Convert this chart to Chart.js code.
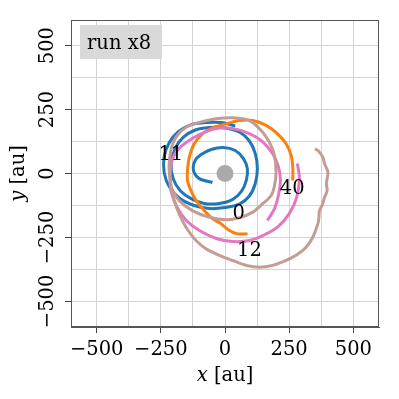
<!DOCTYPE html>
<html>
<head>
<meta charset="utf-8">
<script src="https://cdn.jsdelivr.net/npm/chart.js@4.4.0/dist/chart.umd.min.js"></script>
<style>
  html, body { margin: 0; padding: 0; background: #fff; }
</style>
</head>
<body>
<canvas id="orbit-chart" width="399" height="399"></canvas>
<script>
// tracks in au as [x, y]
const blueTrack = [
  [-49,-35],[-100,-20],[-123,12],[-116,51],[-93,74],[-54,94],[-7,102],[40,90],[71,59],[87,20],
  [83,-27],[64,-70],[29,-102],[-22,-117],[-81,-117],[-132,-98],[-175,-66],[-202,-20],[-210,39],
  [-194,98],[-163,141],[-116,170],[-61,180],[1,178],[56,162],[95,127],[118,78],[126,20],[118,-39],
  [95,-88],[56,-120],[1,-133],[-61,-137],[-123,-124],[-178,-96],[-217,-52],[-237,4],[-237,66],
  [-217,121],[-182,164],[-131,191],[-73,199],[-14,199],[40,186]
];
const orangeTrack = [
  [88,-236],[49,-236],[17,-223],[-16,-196],[-48,-177],[-81,-145],[-113,-105],[-133,-66],[-146,-27],
  [-146,12],[-139,64],[-120,116],[-88,155],[-42,181],[4,194],[56,207],[108,207],[160,188],[205,155],
  [238,116],[258,70],[264,25],[264,-27]
];
const pinkTrack = [
  [282,39],[290,-20],[279,-94],[251,-156],[208,-207],[157,-238],[95,-262],[29,-266],[-34,-254],
  [-100,-223],[-151,-184],[-186,-133],[-210,-70],[-214,-8],[-206,51],[-186,90],[-151,121],[-100,152],
  [-34,176],[29,176],[95,156],[146,125],[185,78],[208,27],[216,-27],[208,-86],[193,-137],[165,-184]
];
const brownTrack = [
  [350,96],[362,90],[381,64],[388,38],[401,5],[395,-40],[398,-66],[388,-93],[380,-120],[368,-145],
  [366,-172],[362,-196],[342,-249],[316,-288],[277,-320],[238,-340],[186,-359],[134,-366],[82,-359],
  [30,-340],[-22,-320],[-74,-294],[-113,-262],[-152,-210],[-179,-157],[-198,-105],[-211,-40],
  [-218,25],[-211,90],[-191,142],[-152,181],[-100,200],[-35,214],[30,218],[95,207],[141,168],
  [173,122],[193,70],[199,5],[193,-47],[180,-86],[147,-118],[108,-151],[56,-173],[4,-181],
  [-61,-171],[-127,-145],[-179,-105],[-210,-55]
];
const starPos = [[0, 0]];

const labelTexts = ['11', '40', '0', '12'];
const labelX = [-211, 262, 53, 95];
const labelY = [74, -60, -157, -301];

const tickValues = [-500, -250, 0, 250, 500];
const gridValues = [-500, -375, -250, -125, 0, 125, 250, 375, 500];
const boxText = 'run x8';

const serif = '"DejaVu Serif", "Liberation Serif", serif';
const fontSize = 19.5;

function toPoints(arr) {
  return arr.map(p => ({ x: p[0], y: p[1] }));
}

function fmtTick(v) {
  if (!tickValues.includes(v)) return '';
  return v < 0 ? '\u2212' + Math.abs(v) : String(v);
}

function tickMarkColor(ctx) {
  return ctx.tick && tickValues.includes(ctx.tick.value) ? '#444444' : 'rgba(0,0,0,0)';
}

function drawMixed(ctx, parts, cx, baseY) {
  let total = 0;
  parts.forEach(p => { ctx.font = p.font; p.w = ctx.measureText(p.text).width; total += p.w; });
  let x = cx - total / 2;
  parts.forEach(p => { ctx.font = p.font; ctx.fillText(p.text, x, baseY); x += p.w; });
}

const decorPlugin = {
  id: 'decor',
  afterDraw(chart) {
    const ctx = chart.ctx;
    const area = chart.chartArea;
    const xs = chart.scales.x;
    const ys = chart.scales.y;
    ctx.save();

    // frame on all four sides
    ctx.strokeStyle = '#555555';
    ctx.lineWidth = 1;
    ctx.strokeRect(area.left + 0.5, area.top + 0.5, area.right - area.left - 1, area.bottom - area.top - 1);

    // snapshot labels
    ctx.fillStyle = '#000';
    ctx.font = fontSize + 'px ' + serif;
    ctx.textAlign = 'center';
    ctx.textBaseline = 'middle';
    for (let i = 0; i < labelTexts.length; i++) {
      ctx.fillText(labelTexts[i], xs.getPixelForValue(labelX[i]), ys.getPixelForValue(labelY[i]));
    }

    // run box
    ctx.fillStyle = '#d9d9d9';
    ctx.fillRect(area.left + 9, area.top + 5, 82, 34);
    ctx.fillStyle = '#000';
    ctx.textAlign = 'left';
    ctx.textBaseline = 'alphabetic';
    ctx.fillText(boxText, area.left + 16, area.top + 28.5);

    // axis titles with italic variable names
    const cx = (area.left + area.right) / 2;
    const cy = (area.top + area.bottom) / 2;
    drawMixed(ctx, [
      { text: 'x', font: 'italic ' + fontSize + 'px ' + serif },
      { text: ' [au]', font: fontSize + 'px ' + serif }
    ], cx, 381);
    ctx.translate(23.5, cy);
    ctx.rotate(-Math.PI / 2);
    drawMixed(ctx, [
      { text: 'y', font: 'italic ' + fontSize + 'px ' + serif },
      { text: ' [au]', font: fontSize + 'px ' + serif }
    ], 0, 0);
    ctx.restore();
  }
};

function trackSet(label, arr, color, order) {
  return {
    label: label,
    data: toPoints(arr),
    showLine: true,
    borderColor: color,
    backgroundColor: color,
    borderWidth: 3,
    pointRadius: 0,
    tension: 0.3,
    order: order
  };
}

const ctx = document.getElementById('orbit-chart').getContext('2d');
const chart = new Chart(ctx, {
  type: 'scatter',
  plugins: [decorPlugin],
  data: {
    datasets: [
      {
        label: 'star',
        data: toPoints(starPos),
        pointRadius: 8.5,
        pointBackgroundColor: '#aaaaaa',
        pointBorderWidth: 0,
        order: 0
      },
      trackSet('brown', brownTrack, '#c49c94', 1),
      trackSet('pink', pinkTrack, '#e377c2', 2),
      trackSet('orange', orangeTrack, '#ff7f0e', 3),
      trackSet('blue', blueTrack, '#1f77b4', 4)
    ]
  },
  options: {
    responsive: false,
    animation: false,
    devicePixelRatio: 1,
    layout: { padding: { top: 20, right: 20, left: 0, bottom: 0 } },
    plugins: {
      legend: { display: false },
      tooltip: { enabled: false }
    },
    scales: {
      x: {
        type: 'linear',
        min: -600,
        max: 600,
        afterBuildTicks: s => { s.ticks = gridValues.map(v => ({ value: v })); },
        afterFit: s => { s.height = 72; },
        grid: { color: '#d3d3d3', lineWidth: 1, tickLength: 6, tickColor: tickMarkColor },
        border: { color: '#555555', width: 1 },
        ticks: {
          autoSkip: false,
          maxRotation: 0,
          minRotation: 0,
          padding: 5,
          color: '#000',
          font: { family: serif, size: fontSize },
          callback: v => fmtTick(v)
        }
      },
      y: {
        type: 'linear',
        min: -600,
        max: 600,
        afterBuildTicks: s => { s.ticks = gridValues.map(v => ({ value: v })); },
        afterFit: s => { s.width = 71; },
        grid: { color: '#d3d3d3', lineWidth: 1, tickLength: 6, tickColor: tickMarkColor },
        border: { color: '#555555', width: 1 },
        ticks: {
          autoSkip: false,
          minRotation: 90,
          maxRotation: 90,
          crossAlign: 'center',
          padding: -10,
          color: '#000',
          font: { family: serif, size: fontSize },
          callback: v => fmtTick(v)
        }
      }
    }
  }
});
</script>
</body>
</html>
